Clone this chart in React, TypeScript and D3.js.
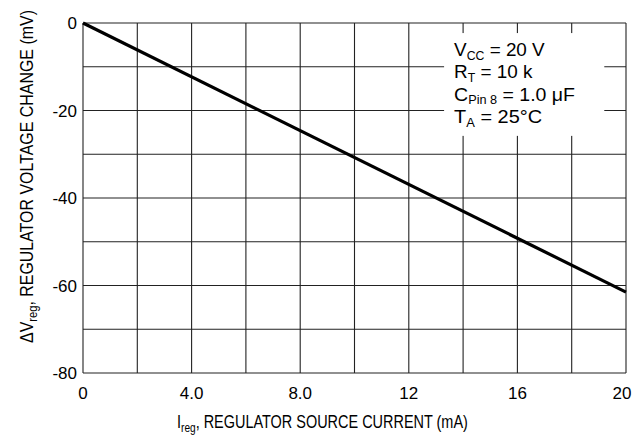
import React, { useEffect, useRef } from 'react';
import * as d3 from 'd3';

// regulator source current (mA) vs regulator voltage change (mV)
const currentMA = [0, 20];
const voltageChangeMV = [0, -61.5];

const xTicks = [0, 4, 8, 12, 16, 20];
const xTickLabels = ['0', '4.0', '8.0', '12', '16', '20'];
const yTicks = [0, -20, -40, -60, -80];
const yTickLabels = ['0', '-20', '-40', '-60', '-80'];
const xGrid = d3.range(0, 21, 2);
const yGrid = d3.range(0, -81, -10);

const legendLines = [
  { main: 'V', sub: 'CC', rest: ' = 20 V', len: 91 },
  { main: 'R', sub: 'T', rest: ' = 10 k', len: 79 },
  { main: 'C', sub: 'Pin 8', rest: ' = 1.0 \u03bcF', len: 121 },
  { main: 'T', sub: 'A', rest: ' = 25\u00b0C', len: 88 },
];

const FONT = '"Liberation Sans", Arial, Helvetica, sans-serif';

type Sel = d3.Selection<SVGGElement, unknown, null, undefined>;

// text with a lowered subscript, squeezed horizontally to a target width
function subText(
  parent: Sel,
  main: string,
  sub: string,
  rest: string,
  size: number,
  targetWidth: number,
  transform: string,
  subScale = 0.7
) {
  const g = parent.append('g').attr('transform', transform);
  const inner = g.append('g');
  const t = inner
    .append('text')
    .attr('x', 0)
    .attr('y', 0)
    .style('font-family', FONT)
    .style('font-size', `${size}px`);
  t.append('tspan').text(main);
  t.append('tspan').text(sub).attr('dy', size * 0.2).style('font-size', `${size * subScale}px`);
  t.append('tspan').text(rest).attr('dy', -size * 0.2);
  const w = (t.node() as SVGTextElement).getBBox().width;
  if (w > 0) inner.attr('transform', `scale(${targetWidth / w},1)`);
}

const App: React.FC = () => {
  const chartRef = useRef<SVGSVGElement>(null);

  useEffect(() => {
    if (!chartRef.current) return;
    const root = d3.select(chartRef.current);
    root.selectAll('*').remove();

    const margin = { top: 23, right: 8, bottom: 72, left: 83 };
    const width = 634 - margin.left - margin.right;
    const height = 445 - margin.top - margin.bottom;

    const top = root.append('g') as unknown as Sel;
    const svg = root
      .append('g')
      .attr('transform', `translate(${margin.left},${margin.top})`) as unknown as Sel;

    const x = d3.scaleLinear().domain([0, 20]).range([0, width]);
    const y = d3.scaleLinear().domain([-80, 0]).range([height, 0]);

    // grid
    svg
      .selectAll('.vgrid')
      .data(xGrid)
      .enter()
      .append('line')
      .attr('x1', (d) => x(d))
      .attr('x2', (d) => x(d))
      .attr('y1', 0)
      .attr('y2', height)
      .attr('stroke', '#222')
      .attr('stroke-width', 1.1);

    svg
      .selectAll('.hgrid')
      .data(yGrid)
      .enter()
      .append('line')
      .attr('x1', 0)
      .attr('x2', width)
      .attr('y1', (d) => y(d))
      .attr('y2', (d) => y(d))
      .attr('stroke', '#222')
      .attr('stroke-width', 1.1);

    // legend box covers the grid
    const bx = x(13.3);
    const by = y(-2.3);
    svg
      .append('rect')
      .attr('x', bx)
      .attr('y', by)
      .attr('width', x(19.2) - bx)
      .attr('height', y(-25.8) - by)
      .attr('fill', '#fff');

    // curve
    const line = d3
      .line<number>()
      .x((d) => x(d))
      .y((_, i) => y(voltageChangeMV[i]));
    svg
      .append('path')
      .attr('d', line(currentMA))
      .attr('fill', 'none')
      .attr('stroke', '#000')
      .attr('stroke-width', 3.2);

    // tick labels
    svg
      .selectAll('.xt')
      .data(xTicks)
      .enter()
      .append('text')
      .text((_, i) => xTickLabels[i])
      .attr('x', (d) => x(d))
      .attr('dx', (d) => (d === 20 ? -4 : 0))
      .attr('y', height + 26)
      .attr('text-anchor', 'middle')
      .style('font-family', FONT)
      .style('font-size', '17px');

    svg
      .selectAll('.yt')
      .data(yTicks)
      .enter()
      .append('text')
      .text((_, i) => yTickLabels[i])
      .attr('x', -6)
      .attr('y', (d) => y(d) + 6)
      .attr('text-anchor', 'end')
      .style('font-family', FONT)
      .style('font-size', '17px');

    // legend
    legendLines.forEach((l, i) => {
      subText(svg, l.main, l.sub, l.rest, 19, l.len, `translate(${bx + 10},${33 + i * 22.3})`, 0.65);
    });

    // axis titles
    subText(top, 'I', 'reg', ', REGULATOR SOURCE CURRENT (mA)', 19, 291, 'translate(177,428)');
    subText(
      top,
      '\u0394V',
      'reg',
      ', REGULATOR VOLTAGE CHANGE (mV)',
      18,
      333,
      'translate(33,343) rotate(-90)'
    );
  }, []);

  return (
    <svg
      ref={chartRef}
      width={634}
      height={445}
      style={{ position: 'absolute', left: 0, top: 0, background: '#fff' }}
    />
  );
};

export default App;
